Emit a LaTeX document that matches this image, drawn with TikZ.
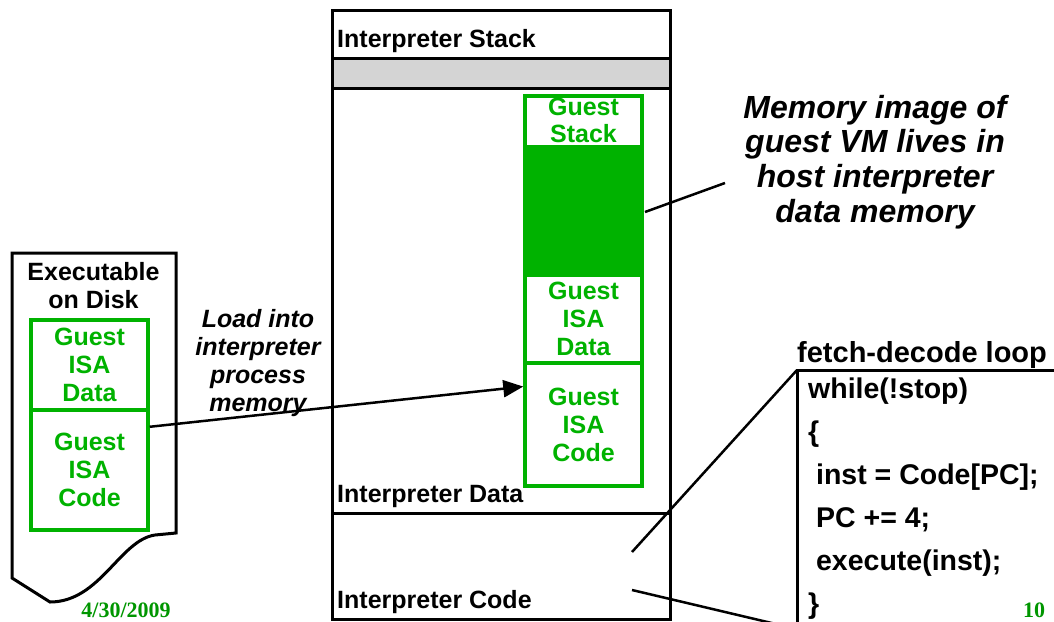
\documentclass[tikz,border=0pt]{standalone}
\usepackage{fontspec}
\setmainfont{Liberation Sans}
\newfontfamily\datefont{Liberation Serif}
\usetikzlibrary{arrows.meta,calc}
\definecolor{vmgreen}{RGB}{0,178,0}
\definecolor{footgreen}{RGB}{0,150,0}
\definecolor{stackgray}{RGB}{212,212,212}
\begin{document}
\begin{tikzpicture}
        [x=1pt, y=-1pt,
        region/.style={draw, line width=3pt, minimum width=338pt, inner sep=0pt, outer sep=0pt},
        lbl/.style={font=\fontsize{25}{28}\selectfont\bfseries, inner sep=0pt},
        note/.style={font=\fontsize{25}{28}\selectfont\bfseries\itshape, inner sep=0pt, align=center},
        gbox/.style={draw=vmgreen, line width=3.5pt, text=vmgreen, font=\fontsize{25}{28}\selectfont\bfseries, align=center, inner sep=0pt, minimum width=117pt},
        code/.style={font=\fontsize{28.5}{34}\selectfont\bfseries, inner sep=0pt, anchor=base west},
        wire/.style={line width=2.5pt}]
        \useasboundingbox (0,0) rectangle (1054,621);
        \clip (0,0) rectangle (1054,621);

        % executable on disk
        \draw[line width=3pt] (12,253) -- (176,253) -- (176,533) -- (155,535)
            .. controls (120,540) and (100,602) .. (50,602) -- (12,578) -- cycle;
        \node[lbl, align=center] (E) at (93.5,286) {Executable\\on Disk};
        \node[gbox, minimum height=90pt] (DD) at (89.5,365) {Guest\\ISA\\Data};
        \node[gbox, minimum height=120pt] (DC) at (89.5,470) {Guest\\ISA\\Code};

        % interpreter process memory
        \fill[stackgray] (332,58) rectangle (670,88);
        \node[region, minimum height=48pt] (S) at (501,34) {};
        \node[region, minimum height=425pt] (M) at (501,300.5) {};
        \node[region, minimum height=106pt] (K) at (501,566) {};
        \draw[line width=3pt] (S.north west) rectangle (K.south east);
        \node[lbl, anchor=base west] (SL) at (337,47) {Interpreter Stack};
        \node[lbl, anchor=base west] (ML) at (337,502) {Interpreter Data};
        \node[lbl, anchor=base west] (KL) at (337,608) {Interpreter Code};

        % guest memory image
        \fill[vmgreen] (525,145) rectangle (642,275);
        \node[gbox, minimum height=179pt] (GS) at (583.5,185.5) {};
        \node[lbl, text=vmgreen, align=center, font=\fontsize{25}{27}\selectfont\bfseries] (GST) at (583.5,120.5) {Guest\\Stack};
        \node[gbox, minimum height=88pt] (GD) at (583.5,319) {Guest\\ISA\\Data};
        \node[gbox, minimum height=123pt] (GC) at (583.5,424.5) {Guest\\ISA\\Code};

        \node[note] (LD) at (258,363) {Load into\\interpreter\\process\\memory};
        \draw[wire, -{Triangle[length=20pt, width=17pt]}] ($(DC.north east)!0.15!(DC.south east)$) -- ($(GC.north west)!0.2!(GC.south west)$);

        \node[note, font=\fontsize{32}{34.7}\selectfont\bfseries\itshape] (MI) at (875,162) {Memory image of\\guest VM lives in\\host interpreter\\data memory};
        \coordinate (MA) at (645,212);
        \coordinate (MB) at (725,183);
        \draw[wire] (MA) -- (MB);

        % fetch-decode loop
        \node[lbl, font=\fontsize{29}{34}\selectfont\bfseries, anchor=base west] (FT) at (797,362) {fetch-decode loop};
        \coordinate (F1) at (797,370);
        \coordinate (F2) at (797,640);
        \coordinate (F3) at (1070,370);
        \draw[line width=3pt] (F2) -- (F1) -- (F3);
        \node[code] (C1) at (808,398) {while(!stop)};
        \node[code] (C2) at (808,441) {\{};
        \node[code] (C3) at (808,484) {\ inst = Code[PC];};
        \node[code] (C4) at (808,527) {\ PC += 4;};
        \node[code] (C5) at (808,570) {\ execute(inst);};
        \node[code] (C6) at (808,613) {\}};
        \coordinate (P1) at (632,552);
        \coordinate (P2) at (632,590);
        \coordinate (P3) at (797,629);
        \draw[wire] (P1) -- (F1);
        \draw[wire] (P2) -- (P3);

        % footer
        \node[inner sep=0pt, text=footgreen, font=\datefont\fontsize{22}{24}\selectfont\bfseries, anchor=base] (DT) at (126,617) {4/30/2009};
        \node[inner sep=0pt, text=footgreen, font=\datefont\fontsize{22}{24}\selectfont\bfseries, anchor=base] (PG) at (1034,617) {10};
    \end{tikzpicture}
\end{document}
